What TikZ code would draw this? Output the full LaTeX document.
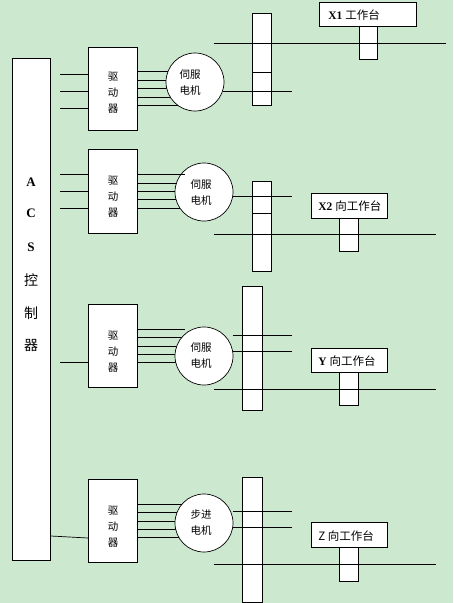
\documentclass[tikz,border=0pt]{standalone}
\usepackage{fontspec}
\setmainfont{Liberation Serif}
\newfontfamily\cjk{Noto Sans CJK SC}
\usetikzlibrary{backgrounds}
\definecolor{bg}{RGB}{204,232,207}
\begin{document}
\begin{tikzpicture}[x=1pt,y=-1pt,line width=0.7pt,
  box/.style={draw,fill=white,inner sep=0pt,anchor=north west},
  motor/.style={draw,fill=white,circle,minimum size=58pt,inner sep=0pt},
  mtext/.style={font=\cjk\fontsize{10.5}{16}\selectfont,align=center},
  dtext/.style={font=\cjk\fontsize{10.5}{16}\selectfont,align=center},
  ttext/.style={font=\fontsize{11.5}{12}\selectfont,anchor=west,inner sep=0pt},
  ctext/.style={font=\bfseries\fontsize{13}{13}\selectfont},
  cjtext/.style={font=\cjk\fontsize{14}{14}\selectfont}]
\begin{scope}[on background layer]
\fill[bg] (0,0) rectangle (453,603);
\end{scope}
\useasboundingbox (0,0) rectangle (453,603);

% controller
\node[box,minimum width=38pt,minimum height=502pt] (acs) at (12,58) {};
\node[ctext] (cA) at (31,182) {A};
\node[ctext] (cC) at (31,213) {C};
\node[ctext] (cS) at (31,247) {S};
\node[cjtext] (ck) at (31,280) {控};
\node[cjtext] (cz) at (31,313) {制};
\node[cjtext] (cq) at (31,345) {器};

% drivers
\node[box,minimum width=49pt,minimum height=83pt] (d1) at (88,47) {};
\node[box,minimum width=49pt,minimum height=84pt] (d2) at (88,149) {};
\node[box,minimum width=49pt,minimum height=83pt] (d3) at (88,304) {};
\node[box,minimum width=49pt,minimum height=83pt] (d4) at (88,479) {};
\node[dtext] (dt1) at (113,93) {驱\\动\\器};
\node[dtext] (dt2) at (113,197) {驱\\动\\器};
\node[dtext] (dt3) at (113,352) {驱\\动\\器};
\node[dtext] (dt4) at (113,526.5) {驱\\动\\器};

% motors
\node[motor] (m1) at (195,82) {};
\node[motor] (m2) at (204,192) {};
\node[motor] (m3) at (204,356) {};
\node[motor] (m4) at (204,523) {};
\node[mtext] (mt1) at (190,83) {伺服\\电机};
\node[mtext] (mt2) at (201,192.5) {伺服\\电机};
\node[mtext] (mt3) at (201,355.5) {伺服\\电机};
\node[mtext] (mt4) at (201,522.5) {步进\\电机};

% driver -> motor wires (behind the motors)
\begin{scope}[on background layer]
\foreach \y in {71,80,88,97,105} \draw (d1.east |- 0,\y) -- (m1.center |- 0,\y);
\foreach \y in {183,191,199,208} \draw (d2.east |- 0,\y) -- (m2.center |- 0,\y);
\foreach \y in {337,346,354,362} \draw (d3.east |- 0,\y) -- (m3.center |- 0,\y);
\foreach \y in {512,521,529,537} \draw (d4.east |- 0,\y) -- (m4.center |- 0,\y);
\end{scope}
\draw (d2.east |- 0,174) -- (185,174);
\draw (d3.east |- 0,329) -- (185,329);
\draw (d4.east |- 0,504) -- (182,504);

% controller -> driver wires
\foreach \y in {74,91,108} \draw (60,\y) -- (d1.west |- 0,\y);
\foreach \y in {174,191,208} \draw (60,\y) -- (d2.west |- 0,\y);
\draw (60,362) -- (d3.west |- 0,362);
\draw (acs.east |- 0,536) -- (d4.west |- 0,538);

% bars (couplings)
\node[box,minimum width=19pt,minimum height=92pt] (b1) at (252,13) {};
\node[box,minimum width=19pt,minimum height=90pt] (b2) at (252,181) {};
\node[box,minimum width=20pt,minimum height=124pt] (b3) at (242,286) {};
\node[box,minimum width=20pt,minimum height=125pt] (b4) at (242,477) {};
\draw (b1.west |- 0,72) -- (b1.east |- 0,72);
\draw (b2.west |- 0,213) -- (b2.east |- 0,213);

% tables
\node[box,minimum width=97pt,minimum height=24pt] (t1) at (319,2) {};
\node[box,minimum width=18pt,minimum height=33pt] (k1) at (359,26) {};
\node[box,minimum width=76pt,minimum height=25pt] (t2) at (311,193) {};
\node[box,minimum width=19pt,minimum height=33pt] (k2) at (339,218) {};
\node[box,minimum width=76pt,minimum height=24pt] (t3) at (311,348) {};
\node[box,minimum width=19pt,minimum height=33pt] (k3) at (339,372) {};
\node[box,minimum width=76pt,minimum height=25pt] (t4) at (311,522) {};
\node[box,minimum width=19pt,minimum height=34pt] (k4) at (339,547) {};
\node[ttext] (tt1) at (328,15) {\textbf{X1} {\cjk 工作台}};
\node[ttext] (tt2) at (318,206) {\textbf{X2} {\cjk 向工作台}};
\node[ttext] (tt3) at (318,361) {\textbf{Y} {\cjk 向工作台}};
\node[ttext] (tt4) at (318,536) {{\cjk Z 向工作台}};

% shafts and guide lines
\draw (214,43) -- (446,43);
\draw (223,91) -- (292,91);
\draw (233,196) -- (292,196);
\draw (214,234) -- (436,234);
\draw (233,335) -- (292,335);
\draw (233,351) -- (292,351);
\draw (214,389) -- (436,389);
\draw (233,511) -- (292,511);
\draw (233,527) -- (292,527);
\draw (214,564) -- (436,564);
\end{tikzpicture}
\end{document}
